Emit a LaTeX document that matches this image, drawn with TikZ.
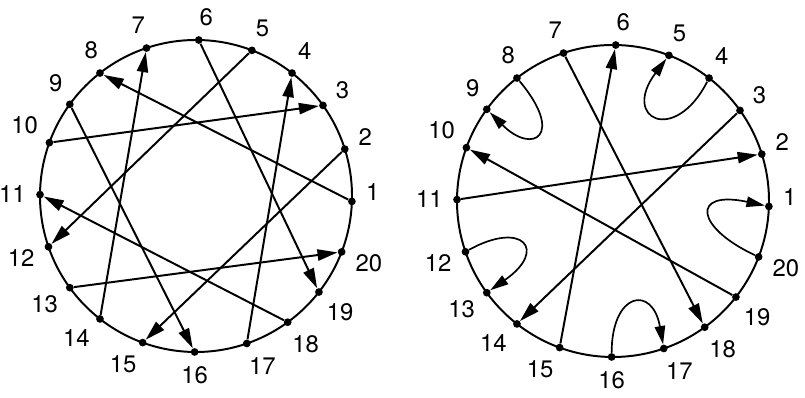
\documentclass[tikz,border=0pt]{standalone}
\usepackage{fontspec}
\setmainfont{TeX Gyre Heros}
\usetikzlibrary{arrows.meta,calc}
\tikzset{
  rim/.style={line width=1.4pt},
  dot/.style={circle,fill,inner sep=0pt,minimum size=5.5pt},
  numlabel/.style={font=\fontsize{17}{20}\selectfont,inner sep=0pt,label distance=7pt},
  chordarrow/.style={-{Triangle[length=5mm,width=2.8mm]},line width=1.4pt},
  looparrow/.style={-{Triangle[length=4.6mm,width=2.6mm]},line width=1.2pt},
}
\begin{document}
\begin{tikzpicture}[x=0.025cm,y=0.025cm]
  \useasboundingbox (0,0) rectangle (805,398);
  \coordinate (cL) at (196,202);
  \coordinate (cR) at (613,197);
  \draw[rim] (cL) circle[radius=156];
  \draw[rim] (cR) circle[radius=156];
  % points on both rims: number / angle on rim / label angle
  \foreach \k/\ang/\la in {1/-2/3,2/17.5/13,3/35.5/25,4/52/66,5/69/75,6/89/87,7/108.5/95,
      8/128/97,9/144/121,10/160/143,11/179.5/178,12/199/190,13/216/214,14/232/225,
      15/250/245,16/269.5/270,17/289/278,18/306/288,19/322/303,20/339/349} {
    \node[dot,label={[numlabel]\la:\k}] (L\k) at ($(cL)+(\ang:156)$) {};
    \node[dot,label={[numlabel]\la:\k}] (R\k) at ($(cR)+(\ang:156)$) {};
  }
  % left: chords only
  \foreach \a/\b in {10/3,1/8,5/12,6/19,17/4,2/15,14/7,9/16,18/11,13/20}
    \draw[chordarrow] (L\a) -- (L\b);
  % right: chords and loops
  \foreach \a/\b in {11/2,15/6,7/18,3/14,19/10}
    \draw[chordarrow] (R\a) -- (R\b);
  \draw[looparrow] (R8) .. controls +(310:75) and +(315:65) .. (R9);
  \draw[looparrow] (R4) .. controls +(243:75) and +(233:80) .. (R5);
  \draw[looparrow] (R20) .. controls +(155:70) and +(168:80) .. (R1);
  \draw[looparrow] (R12) .. controls +(29:65) and +(35:75) .. (R13);
  \draw[looparrow] (R16) .. controls +(90:65) and +(100:65) .. (R17);
\end{tikzpicture}
\end{document}
